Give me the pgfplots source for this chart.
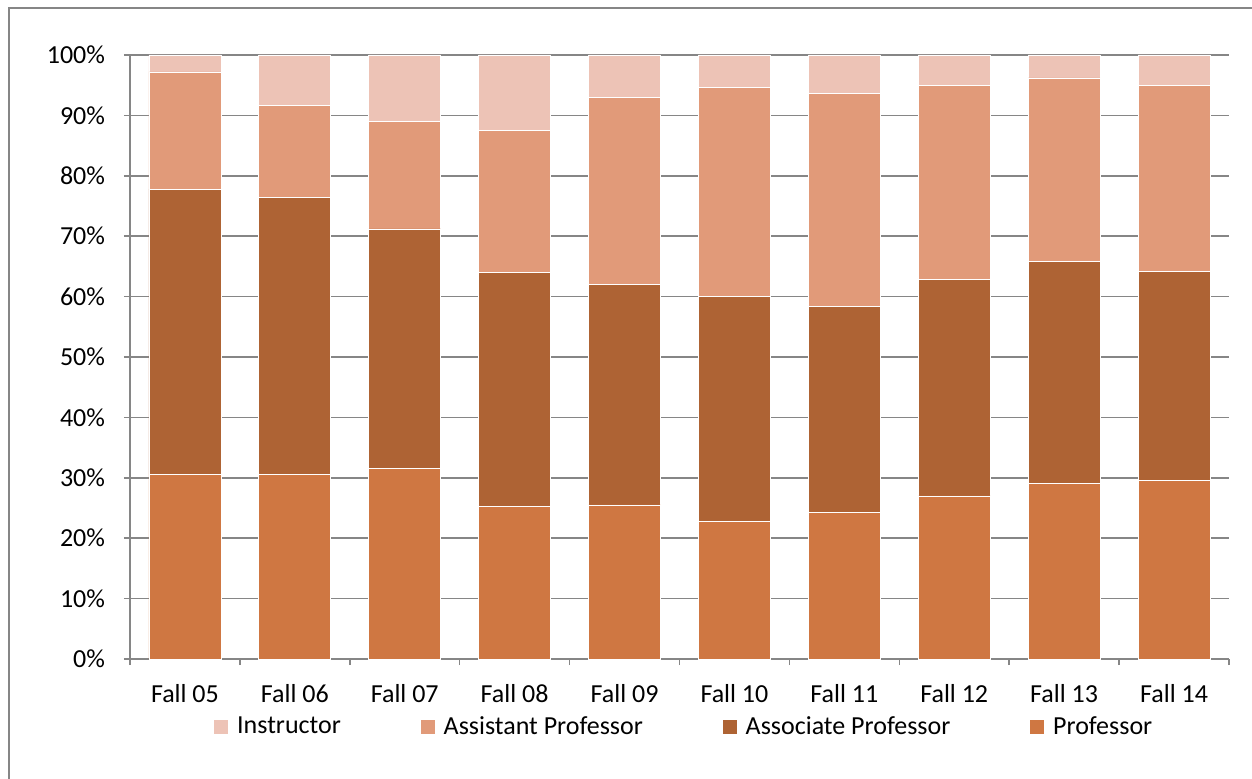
\documentclass[border=0pt]{standalone}
\usepackage{fontspec}
\setmainfont{Carlito}
\usepackage{pgfplots}
\usepackage{pgfplotstable}
\pgfplotsset{compat=1.18}

\definecolor{cInstr}{RGB}{237,195,182}
\definecolor{cAsst}{RGB}{225,154,121}
\definecolor{cAssoc}{RGB}{174,99,52}
\definecolor{cProf}{RGB}{207,119,66}
\definecolor{gridgray}{RGB}{134,134,134}

% share of each rank in percent, per fall term
\pgfplotstableread{
x term prof assoc asst instr
0 05 30.6 47.2 19.4 2.8
1 06 30.6 45.8 15.2 8.4
2 07 31.6 39.6 17.8 11.0
3 08 25.2 38.8 23.5 12.5
4 09 25.5 36.5 30.9 7.1
5 10 22.8 37.2 34.6 5.4
6 11 24.2 34.1 35.4 6.3
7 12 27.0 35.8 32.1 5.1
8 13 29.1 36.7 30.4 3.8
9 14 29.6 34.6 30.7 5.1
}\ranks

\begin{document}
\begin{tikzpicture}[font=\fontsize{13bp}{15bp}\selectfont]
\begin{axis}[
    at={(0,0)}, anchor=south west,
    scale only axis,
    width=549.5bp, height=302bp,
    ybar stacked,
    bar width=36bp,
    xmin=-0.5, xmax=9.5,
    ymin=0, ymax=100,
    xtick={0,...,9},
    xticklabels={Fall 05,Fall 06,Fall 07,Fall 08,Fall 09,Fall 10,Fall 11,Fall 12,Fall 13,Fall 14},
    minor xtick={-0.5,0.5,...,9.5},
    ytick={0,10,...,100},
    yticklabel={\pgfmathprintnumber{\tick}\%},
    /pgf/number format/assume math mode=true,
    tick align=outside,
    major tick length=3bp,
    minor tick length=3bp,
    xtick style={draw=none},
    minor x tick style={draw=gridgray, line width=0.75bp},
    y tick style={draw=gridgray, line width=0.75bp},
    ymajorgrids,
    grid style={draw=gridgray, line width=0.75bp},
    axis line style={draw=gridgray, line width=0.75bp},
    axis x line*=bottom,
    axis y line*=left,
    xticklabel style={yshift=-6bp},
    yticklabel style={xshift=-6bp},
    tick label style={font=\fontsize{13bp}{15bp}\selectfont},
    legend columns=-1,
    reverse legend,
    legend style={
        at={(0.0755,-0.1126)}, anchor=west,
        draw=none, fill=none, inner sep=0pt,
        font=\fontsize{13bp}{15bp}\selectfont,
        /tikz/every even column/.append style={column sep=38bp},
        nodes={inner sep=1.5bp},
    },
    legend image code/.code={
        \fill[#1] (0bp,-3.75bp) rectangle (7.5bp,3.75bp);
        \path (10bp,0bp);
    },
    every axis plot/.append style={draw=white, line width=0.4bp},
]
\addplot[fill=cProf] table[x=x, y=prof] {\ranks};
\addplot[fill=cAssoc] table[x=x, y=assoc] {\ranks};
\addplot[fill=cAsst] table[x=x, y=asst] {\ranks};
\addplot[fill=cInstr] table[x=x, y=instr] {\ranks};
\legend{Professor,Associate Professor,Assistant Professor,Instructor}
\end{axis}
\draw[gridgray, line width=0.75bp] (-60.5bp,-70bp) -- (-60.5bp,325.5bp) -- (570bp,325.5bp);
\pgfresetboundingbox
\path[use as bounding box] (-65bp,-60bp) rectangle (561bp,329.5bp);
\end{tikzpicture}
\end{document}
